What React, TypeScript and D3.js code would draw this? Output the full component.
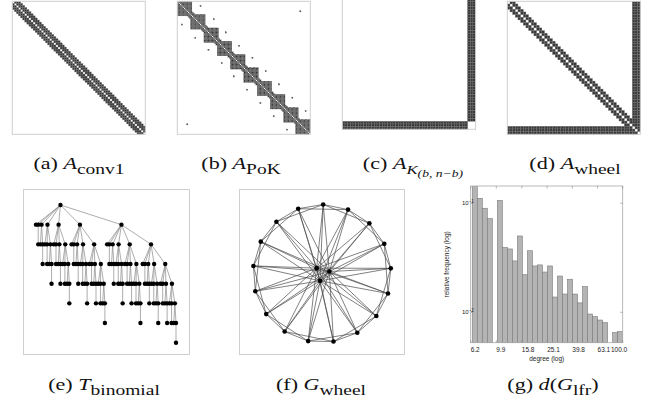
import React from 'react';
import * as d3 from 'd3';

const W = 651;
const H = 407;

// (a) convolution band matrix
const convN = 64;
const convBand = [1, 2, 3];

// (b) PoK matrix
const pokN = 100;
const pokBlockStarts = [0, 10, 20, 30, 40, 50, 60, 70, 80, 89];
const pokBlockSize = 11;
const pokBand = [1, 2, 3];
const pokExtraRows = [3, 7, 13, 23, 33, 42, 52, 62, 72, 82];
const pokExtraCols = [17, 92, 27, 36, 46, 56, 66, 76, 86, 96];

// (c) complete bipartite K(b, n-b)
const kbN = 50;
const kbB = 3;

// (d) wheel adjacency
const wheelN = 50;
const wheelBand = [1, 2];
const wheelHubs = 3;

// (e) binomial tree
const binomialOrder = 7;

// (f) wheel graph
const ringCount = 17;
const ringOffsets = [1, 2];
const hubCount = 3;
const hubAnglesDeg = [315, 75, 195];

// (g) degree histogram
const degreeTicks = [6.2, 9.9, 15.8, 25.1, 39.8, 63.1, 100.0];
const degreeTickLabels = ['6.2', '9.9', '15.8', '25.1', '39.8', '63.1', '100.0'];
const degreeBinRange = [6.38, 100];
const freqValues = [
  0.15, 0.111, 0.09, 0.0723, 0, 0.106, 0.0394, 0.0381, 0.0296, 0.0501,
  0.0221, 0.0367, 0.0266, 0.0272, 0.0234, 0.0266, 0.0138, 0.0215, 0.0147, 0.0201,
  0.0147, 0.0122, 0.0172, 0.00964, 0.00912, 0.00849, 0.00803, 0, 0.0065, 0.00664,
];
const freqTicks = [0.1, 0.01];
const freqTickExp = ['−1', '−2'];
const freqDomain = [0.00526, 0.144];

type Cell = [number, number];

function convCells(): Cell[] {
  const c: Cell[] = [];
  for (let i = 0; i < convN; i++)
    for (const b of convBand) {
      if (i + b < convN) { c.push([i, i + b]); c.push([i + b, i]); }
    }
  return c;
}

function pokCells(): Cell[] {
  const set = new Set<string>();
  const c: Cell[] = [];
  const add = (i: number, j: number) => {
    if (i === j || i < 0 || j < 0 || i >= pokN || j >= pokN) return;
    const k = i + ',' + j;
    if (!set.has(k)) { set.add(k); c.push([i, j]); }
  };
  for (const s of pokBlockStarts)
    for (let i = s; i < s + pokBlockSize; i++)
      for (let j = s; j < s + pokBlockSize; j++) add(i, j);
  for (let i = 0; i < pokN; i++)
    for (const b of pokBand) { add(i, i + b); add(i + b, i); }
  pokExtraRows.forEach((r, k) => { add(r, pokExtraCols[k]); add(pokExtraCols[k], r); });
  return c;
}

function kbCells(): Cell[] {
  const c: Cell[] = [];
  for (let i = 0; i < kbN - kbB; i++)
    for (let j = kbN - kbB; j < kbN; j++) { c.push([i, j]); c.push([j, i]); }
  return c;
}

function wheelCells(): Cell[] {
  const set = new Set<string>();
  const c: Cell[] = [];
  const add = (i: number, j: number) => {
    if (i === j || i < 0 || j < 0 || i >= wheelN || j >= wheelN) return;
    const k = i + ',' + j;
    if (!set.has(k)) { set.add(k); c.push([i, j]); }
  };
  for (let i = 0; i < wheelN; i++)
    for (const b of wheelBand) { add(i, i + b); add(i + b, i); }
  for (let i = 0; i < wheelN - wheelHubs; i++)
    for (let j = wheelN - wheelHubs; j < wheelN; j++) { add(i, j); add(j, i); }
  return c;
}

function Matrix({ x, y, size, n, cells }: { x: number; y: number; size: number; n: number; cells: Cell[] }) {
  const s = d3.scaleLinear().domain([0, n]).range([0, size]);
  const cs = s(1) - s(0);
  return (
    <g transform={`translate(${x},${y})`}>
      <rect x={0} y={0} width={size} height={size} fill="#fff" />
      {cells.map(([i, j], k) => (
        <rect key={k} x={s(j)} y={s(i)} width={cs} height={cs} fill="#383838" stroke="#747474" strokeWidth={Math.min(0.35, cs * 0.16)} />
      ))}
      <rect x={0} y={0} width={size} height={size} fill="none" stroke="#cfcfcf" strokeWidth={1} />
    </g>
  );
}

type TNode = { children: TNode[] };
function binomial(k: number): TNode {
  return { children: d3.range(k).map((i) => binomial(i)) };
}

function Tree() {
  const root = d3.hierarchy<TNode>(binomial(binomialOrder), (d) => (d.children.length ? d.children : null));
  d3.cluster<TNode>().size([1, 1]).separation(() => 1)(root);
  const nodes = root.descendants();
  const ext = d3.extent(nodes, (d) => d.x as number) as [number, number];
  const xs = d3.scaleLinear().domain(ext).range([36, 176]);
  const ys = d3.scaleLinear().domain([0, binomialOrder]).range([205, 342.7]);
  return (
    <g>
      <rect x={23.5} y={189.5} width={166} height={165} fill="#fff" stroke="#cfcfcf" strokeWidth={1} />
      {root.links().map((l, k) => (
        <line key={k} x1={xs(l.source.x as number)} y1={ys(l.source.depth)} x2={xs(l.target.x as number)} y2={ys(l.target.depth)}
          stroke="#8a8a8a" strokeWidth={0.7} />
      ))}
      {nodes.map((d, k) => (
        <circle key={k} cx={xs(d.x as number)} cy={ys(d.depth)} r={2.2} fill="#000" />
      ))}
    </g>
  );
}

function Wheel() {
  const cx = 322, cy = 273.5;
  const rs = d3.scaleLinear().domain([0, 1]).range([0, 69]);
  const ring = d3.range(ringCount).map((i) => {
    const [px, py] = d3.pointRadial((i * 2 * Math.PI) / ringCount + 0.0175, rs(1));
    return [cx + px, cy + py];
  });
  const hubs = d3.range(hubCount).map((i) => {
    const [px, py] = d3.pointRadial((hubAnglesDeg[i] * Math.PI) / 180, rs(0.11));
    return [cx + px, cy + py];
  });
  const edges: [number[], number[]][] = [];
  for (let i = 0; i < ringCount; i++) {
    for (const o of ringOffsets) edges.push([ring[i], ring[(i + o) % ringCount]]);
    for (const h of hubs) edges.push([ring[i], h]);
  }
  for (let a = 0; a < hubCount; a++) for (let b = a + 1; b < hubCount; b++) edges.push([hubs[a], hubs[b]]);
  return (
    <g>
      <rect x={239.5} y={189.5} width={165} height={165} fill="#fff" stroke="#cfcfcf" strokeWidth={1} />
      {edges.map(([p, q], k) => (
        <line key={k} x1={p[0]} y1={p[1]} x2={q[0]} y2={q[1]} stroke="#4a4a4a" strokeWidth={0.7} />
      ))}
      {ring.concat(hubs).map((p, k) => (
        <circle key={k} cx={p[0]} cy={p[1]} r={2.3} fill="#000" />
      ))}
    </g>
  );
}

function Histogram() {
  const L = 470.7, R = 622.7, T = 186, B = 342.7;
  const x = d3.scaleLog().domain([degreeTicks[0], degreeTicks[degreeTicks.length - 1]]).range([L, R]);
  const y = d3.scaleLog().domain(freqDomain).range([B, T]);
  const lo = Math.log10(degreeBinRange[0]);
  const hi = Math.log10(degreeBinRange[1]);
  const nb = freqValues.length;
  const edges = d3.range(nb + 1).map((k) => Math.pow(10, lo + ((hi - lo) * k) / nb));
  const font = 'Liberation Sans, Arial, sans-serif';
  return (
    <g>
      <defs>
        <clipPath id="hclip"><rect x={L} y={T} width={R - L} height={B - T} /></clipPath>
      </defs>
      <rect x={L} y={T} width={R - L} height={B - T} fill="#fff" />
      <g clipPath="url(#hclip)">
        {freqValues.map((v, k) => v > 0 ? (
          <rect key={k} x={x(edges[k])} y={y(v)} width={x(edges[k + 1]) - x(edges[k])} height={B - y(v)}
            fill="#b4b4b4" stroke="#7a7a7a" strokeWidth={0.6} />
        ) : null)}
      </g>
      <rect x={L} y={T} width={R - L} height={B - T} fill="none" stroke="#a8a8a8" strokeWidth={0.8} />
      {degreeTicks.map((t, k) => (
        <g key={k}>
          <line x1={x(t)} x2={x(t)} y1={B} y2={B - 2.5} stroke="#888" strokeWidth={0.6} />
          <line x1={x(t)} x2={x(t)} y1={T} y2={T + 2.5} stroke="#888" strokeWidth={0.6} />
          <text x={k === degreeTicks.length - 1 ? x(t) + 4.5 : x(t)} y={352} fontSize={6.5} fontFamily={font}
            textAnchor={k === degreeTicks.length - 1 ? 'end' : 'start'} fill="#222">{degreeTickLabels[k]}</text>
        </g>
      ))}
      {freqTicks.map((t, k) => (
        <g key={k}>
          <line x1={L} x2={L + 2.5} y1={y(t)} y2={y(t)} stroke="#888" strokeWidth={0.6} />
          <line x1={R} x2={R - 2.5} y1={y(t)} y2={y(t)} stroke="#888" strokeWidth={0.6} />
          <text x={462} y={y(t) + 2} fontSize={6} fontFamily={font} fill="#222">
            10<tspan fontSize={4.5} dy={-2.5}>{freqTickExp[k]}</tspan>
          </text>
        </g>
      ))}
      <text x={(L + R) / 2} y={360.5} fontSize={6.5} fontFamily={font} textAnchor="middle" fill="#222">degree (log)</text>
      <text transform={`translate(449,${(T + B) / 2}) rotate(-90)`} fontSize={6.5} fontFamily={font} textAnchor="middle" fill="#222">relative frequency (log)</text>
    </g>
  );
}

const serif = 'Liberation Serif, Times New Roman, serif';
const MAIN = 17;
const SUB = 15;
const STRETCH = 1.3;

function Cap({ x, y, children }: { x: number; y: number; children: React.ReactNode }) {
  return (
    <g transform={`translate(${x},${y}) scale(${STRETCH},1)`}>
      <text x={0} y={0} textAnchor="middle" fontFamily={serif} fontSize={MAIN} fill="#111">{children}</text>
    </g>
  );
}

export default function App() {
  return (
    <svg width={W} height={H} viewBox={`0 0 ${W} ${H}`} style={{ position: 'absolute', left: 0, top: 0, background: '#fff' }}>
      <rect x={0} y={0} width={W} height={H} fill="#fff" />
      <Matrix x={12.3} y={1.3} size={133} n={convN} cells={convCells()} />
      <Matrix x={177.3} y={1.3} size={133} n={pokN} cells={pokCells()} />
      <Matrix x={342.3} y={-4} size={133.3} n={kbN} cells={kbCells()} />
      <Matrix x={507.3} y={1.3} size={133} n={wheelN} cells={wheelCells()} />

      <Cap x={79} y={169}>
        <tspan>(a) </tspan><tspan fontStyle="italic">A</tspan><tspan fontSize={SUB} dy={4.5}>conv1</tspan>
      </Cap>
      <Cap x={241} y={169}>
        <tspan>(b) </tspan><tspan fontStyle="italic">A</tspan><tspan fontSize={SUB} dy={4.5}>PoK</tspan>
      </Cap>
      <Cap x={413} y={169}>
        <tspan>(c) </tspan><tspan fontStyle="italic">A</tspan><tspan fontSize={13} fontStyle="italic" dy={4.5}>K</tspan>
        <tspan fontSize={10.5} fontStyle="italic" dy={3}>(b, n−b)</tspan>
      </Cap>
      <Cap x={575} y={169}>
        <tspan>(d) </tspan><tspan fontStyle="italic">A</tspan><tspan fontSize={SUB} dy={4.5}>wheel</tspan>
      </Cap>

      <Tree />
      <Wheel />
      <Histogram />

      <Cap x={104} y={390}>
        <tspan>(e) </tspan><tspan fontStyle="italic">T</tspan><tspan fontSize={SUB} dy={4.5}>binomial</tspan>
      </Cap>
      <Cap x={321} y={390}>
        <tspan>(f) </tspan><tspan fontStyle="italic">G</tspan><tspan fontSize={SUB} dy={4.5}>wheel</tspan>
      </Cap>
      <Cap x={553} y={390}>
        <tspan>(g) </tspan><tspan fontStyle="italic">d</tspan><tspan>(</tspan><tspan fontStyle="italic">G</tspan>
        <tspan fontSize={SUB} dy={4.5}>lfr</tspan><tspan dy={-4.5}>)</tspan>
      </Cap>
    </svg>
  );
}
